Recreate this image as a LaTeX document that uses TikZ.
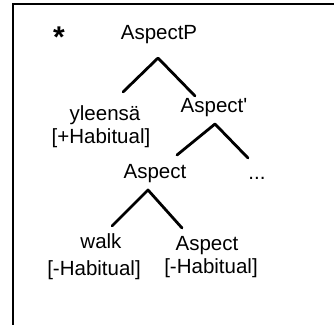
\documentclass[tikz,border=0pt]{standalone}
\usepackage{fontspec}
\setmainfont{Liberation Sans}[Ligatures=TeXOff]
\begin{document}
\begin{tikzpicture}[x=1pt,y=-1pt,
  lab/.style={anchor=base,inner sep=0pt,font=\fontsize{20.5}{24}\selectfont},
  branch/.style={line width=2.8pt,line cap=round,line join=round},
  frame/.style={line width=2pt}]
\useasboundingbox (0,0) rectangle (334,324);
% frame (left and top edges visible)
\coordinate (fbl) at (13,330);
\coordinate (ftl) at (13,4);
\coordinate (ftr) at (340,4);
\draw[frame] (fbl) -- (ftl) -- (ftr);
% star
\node[lab,font=\fontsize{30}{34}\bfseries] (star) at (59,47) {*};
% labels
\node[lab] (AP) at (159,39) {AspectP};
\node[lab] (yl) at (105,120) {yleensä};
\node[lab] (yh) at (101,143) {[+Habitual]};
\node[lab] (Ab) at (214,112) {Aspect'};
\node[lab] (As) at (155,178) {Aspect};
\node[lab] (dots) at (257,179) {...};
\node[lab] (wk) at (101,248) {walk};
\node[lab] (wh) at (94,275) {[-Habitual]};
\node[lab] (A2) at (207,250) {Aspect};
\node[lab] (ah) at (211,273) {[-Habitual]};
% branch points
\coordinate (p1) at (158,58);
\coordinate (p1l) at (123,92);
\coordinate (p1r) at (195,96);
\coordinate (p2) at (215,124);
\coordinate (p2l) at (177,155);
\coordinate (p2r) at (248,158);
\coordinate (p3) at (148,190);
\coordinate (p3l) at (112,226);
\coordinate (p3r) at (182,228);
\draw[branch] (p1l) -- (p1) -- (p1r);
\draw[branch] (p2l) -- (p2) -- (p2r);
\draw[branch] (p3l) -- (p3) -- (p3r);
\end{tikzpicture}
\end{document}
